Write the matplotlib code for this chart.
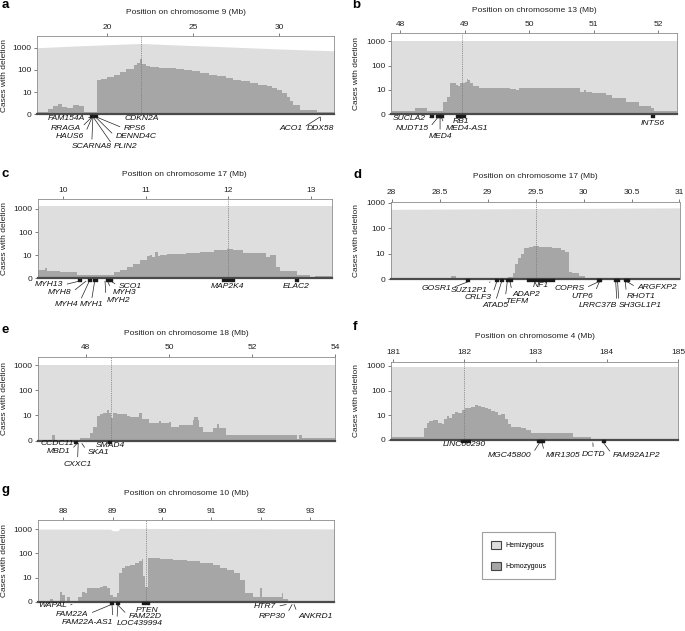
import matplotlib
matplotlib.use('Agg')
import matplotlib.pyplot as plt
from matplotlib.patches import Patch
from matplotlib.ticker import NullLocator, FuncFormatter

plt.rcParams['font.family'] = ['Liberation Sans', 'DejaVu Sans']

W, H = 685, 631
HEMI = '#dedede'
HOMO = '#a6a6a6'
FS = 6.0
GFS = 6.1

# ---- panel a: chromosome 9 ----
A_HOM_X = [15.91, 16.55, 16.85, 17.10, 17.35, 17.63, 17.66, 18.0, 18.33, 18.62, 19.40, 19.60,
           19.98, 20.40, 20.76, 21.10, 21.53, 21.75, 21.92, 22.02, 22.25, 22.50, 23.0, 23.47,
           24.0, 24.44, 24.90, 25.41, 25.90, 26.38, 26.90, 27.34, 27.80, 28.31, 28.80, 29.28,
           29.60, 29.87, 30.20, 30.45, 30.65, 30.83, 31.22, 32.19, 33.25]
A_HOM_Y = [1.3, 1.8, 2.4, 3.0, 2.2, 12, 2.0, 2.6, 2.4, 1.3, 35, 40,
           48, 62, 80, 105, 160, 210, 300, 180, 150, 140, 128, 117,
           108, 100, 88, 75, 62, 53, 45, 37, 31, 27, 22, 19,
           15, 13, 9, 6, 4, 2.6, 1.6, 1.3]
A_HEM_X = [15.9, 18.0, 20.0, 21.97, 24.0, 26.0, 28.0, 30.0, 32.0, 33.25]
A_HEM_Y = [1000, 1190, 1370, 1560, 1340, 1170, 1020, 880, 780, 730]
A_GENES = ['FAM154A', 'RRAGA', 'HAUS6', 'SCARNA8', 'PLIN2', 'DENND4C', 'RPS6', 'CDKN2A', 'ACO1', 'DDX58']
A_START = [19.07, 19.09, 19.11, 19.15, 19.17, 19.30, 19.37, 21.97, 32.37, 32.42]
A_END = [19.08, 19.10, 19.12, 19.16, 19.18, 19.33, 19.38, 21.98, 32.38, 32.43]
A_LX = [18.68, 18.43, 18.62, 19.09, 20.37, 20.47, 20.95, 22.02, 31.35, 32.40]
A_LDY = [4, 14, 22.3, 32.3, 32.3, 22.3, 14, 4.7, 14, 14]
A_LHA = ['right', 'right', 'right', 'center', 'left', 'left', 'left', 'center', 'right', 'center']

# ---- panel b: chromosome 13 ----
B_HOM_X = [47.87, 48.23, 48.41, 48.67, 48.72, 48.77, 48.86, 48.90, 48.93, 49.00, 49.03, 49.06,
           49.08, 49.13, 49.23, 49.70, 49.80, 49.85, 50.78, 50.85, 50.88, 50.98, 51.19, 51.29,
           51.50, 51.70, 51.88, 51.94, 52.29]
B_HOM_Y = [1.37, 1.75, 1.37, 3.3, 5.3, 19, 16, 15, 20, 22, 28, 25,
           20, 15, 12.5, 10.6, 10, 12, 8.5, 10, 8.5, 7.3, 6.2, 4.8,
           3.3, 2.2, 1.8, 1.37]
B_HEM_X = [47.86, 52.29]
B_HEM_Y = [1000, 1000]
B_GENES = ['SUCLA2', 'NUDT15', 'MED4', 'MED4-AS1', 'RB1', 'INTS6']
B_START = [48.48, 48.58, 48.61, 48.63, 48.88, 51.91]
B_END = [48.49, 48.60, 48.63, 48.65, 48.99, 51.92]
B_LX = [48.40, 48.44, 48.62, 48.71, 48.94, 51.91]
B_LDY = [4.7, 14.7, 22.3, 14, 7.7, 9.7]
B_LHA = ['right', 'right', 'center', 'left', 'center', 'center']

# ---- panel c: chromosome 17 (MAP2K4) ----
C_HOM_X = [9.69, 9.78, 9.80, 9.96, 10.16, 10.61, 10.69, 10.77, 10.85, 10.93, 11.01, 11.05,
           11.08, 11.11, 11.15, 11.17, 11.25, 11.49, 11.65, 11.82, 11.98, 12.06, 12.18, 12.46,
           12.50, 12.58, 12.62, 12.74, 12.83, 12.99, 13.05, 13.25]
C_HOM_Y = [2.3, 2.8, 2.1, 1.8, 1.45, 1.8, 2.3, 3.0, 4.2, 6.0, 9.0, 10.5,
           8.5, 14, 9.5, 10.5, 11, 12, 14, 16, 19, 17, 13, 8.7,
           10, 3.2, 2.1, 2.0, 1.4, 1.0, 1.3]
C_HEM_X = [9.69, 13.25]
C_HEM_Y = [1400, 1400]
C_GENES = ['MYH13', 'MYH8', 'MYH4', 'MYH1', 'MYH2', 'MYH3', 'SCO1', 'MAP2K4', 'ELAC2']
C_START = [10.19, 10.27, 10.31, 10.37, 10.50, 10.53, 10.57, 11.93, 12.82]
C_END = [10.20, 10.28, 10.32, 10.39, 10.51, 10.54, 10.58, 12.05, 12.83]
C_LX = [10.0, 10.10, 10.18, 10.34, 10.52, 10.60, 10.67, 11.99, 12.82]
C_LDY = [6.7, 14.3, 26.7, 26.7, 21.7, 14.3, 7.7, 7.7, 7.7]
C_LHA = ['right', 'right', 'right', 'center', 'left', 'left', 'left', 'center', 'center']

# ---- panel d: chromosome 17 (NF1) ----
D_HOM_X = [27.99, 28.62, 28.67, 29.21, 29.26, 29.29, 29.32, 29.35, 29.38, 29.43, 29.47,
           29.54, 29.67, 29.76, 29.81, 29.85, 29.88, 29.95, 30.01, 31.0]
D_HOM_Y = [1.0, 1.3, 1.0, 1.15, 1.7, 4.0, 7.0, 9.3, 17, 18.7, 19.5,
           18.7, 16, 13.8, 12, 1.9, 1.7, 1.3, 1.0]
D_HEM_X = [27.99, 31.0]
D_HEM_Y = [560, 640]
D_GENES = ['GOSR1', 'SUZ12P1', 'CRLF3', 'ATAD5', 'TEFM', 'ADAP2', 'NF1', 'COPRS', 'UTP6',
           'LRRC37B', 'SH3GL1P1', 'RHOT1', 'ARGFXP2']
D_START = [28.79, 29.02, 29.09, 29.14, 29.20, 29.23, 29.42, 30.15, 30.16, 30.33, 30.35, 30.43, 30.45]
D_END = [28.80, 29.03, 29.10, 29.15, 29.21, 29.24, 29.68, 30.16, 30.17, 30.34, 30.36, 30.44, 30.46]
D_LX = [28.62, 29.00, 29.04, 29.08, 29.18, 29.26, 29.55, 30.01, 30.10, 30.35, 30.37, 30.45, 30.56]
D_LDY = [9.3, 11, 18.3, 26.7, 22.3, 16, 6.3, 9.3, 17, 26.7, 26.7, 17.7, 8.7]
D_LHA = ['right', 'right', 'right', 'center', 'left', 'left', 'center', 'right', 'right',
         'right', 'left', 'left', 'left']

# ---- panel e: chromosome 18 ----
E_HOM_X = [46.84, 47.18, 47.26, 47.86, 48.10, 48.18, 48.26, 48.34, 48.42, 48.50, 48.55, 48.60,
           48.65, 48.74, 48.98, 49.06, 49.29, 49.34, 49.53, 49.77, 49.81, 50.01, 50.05, 50.25,
           50.57, 50.61, 50.70, 50.73, 50.81, 51.05, 51.17, 51.21, 51.37, 53.08, 53.13, 53.21, 54.0]
E_HOM_Y = [1.05, 1.7, 1.0, 1.3, 1.95, 3.6, 9.6, 11.4, 12, 16, 12, 7.7,
           13, 11.4, 9.6, 8.9, 12, 7, 4.9, 6, 4.9, 5.5, 3.6, 4.2,
           6.5, 8.5, 6.5, 3.6, 2.3, 3.1, 4.5, 3.1, 1.7, 1.2, 1.7, 1.3]
E_HEM_X = [46.84, 54.0]
E_HEM_Y = [990, 990]
E_GENES = ['CCDC11', 'MBD1', 'CXXC1', 'SKA1', 'SMAD4']
E_START = [47.75, 47.78, 47.81, 47.90, 48.56]
E_END = [47.76, 47.79, 47.82, 47.91, 48.57]
E_LX = [47.72, 47.62, 47.80, 48.05, 48.59]
E_LDY = [3.0, 10.5, 23.5, 11.7, 5]
E_LHA = ['right', 'right', 'center', 'left', 'center']

# ---- panel f: chromosome 4 ----
F_HOM_X = [180.97, 181.44, 181.48, 181.51, 181.56, 181.63, 181.68, 181.71, 181.75, 181.79,
           181.82, 181.87, 181.91, 181.96, 182.01, 182.05, 182.10, 182.15, 182.19, 182.24,
           182.29, 182.33, 182.38, 182.43, 182.47, 182.52, 182.57, 182.61, 182.66, 182.80,
           182.87, 182.94, 183.52, 183.78, 185.0]
F_HOM_Y = [1.36, 3.2, 5, 6, 6.5, 5, 4.5, 7, 9, 8,
           11, 13, 12, 16, 20, 19, 22, 26, 23, 22,
           19, 18, 15, 13, 10, 11, 7, 4.5, 3.5, 3.2,
           2.6, 1.9, 1.3, 1.0]
F_HEM_X = [180.97, 185.0]
F_HEM_Y = [880, 880]
F_GENES = ['LINC00290', 'MGC45800', 'MIR1305', 'DCTD', 'FAM92A1P2']
F_START = [181.97, 183.04, 183.08, 183.80, 183.95]
F_END = [182.06, 183.07, 183.10, 183.81, 183.96]
F_LX = [182.0, 182.94, 183.14, 183.81, 184.09]
F_LDY = [5, 15.7, 15.7, 14, 15.7]
F_LHA = ['center', 'right', 'left', 'center', 'left']

# ---- panel g: chromosome 10 ----
G_HOM_X = [87.48, 87.73, 87.80, 87.93, 87.97, 88.03, 88.07, 88.14, 88.30, 88.37, 88.44, 88.47,
           88.74, 88.81, 88.88, 88.95, 89.01, 89.08, 89.12, 89.18, 89.25, 89.35, 89.45, 89.54,
           89.59, 89.62, 89.65, 89.72, 89.96, 90.23, 90.50, 90.77, 91.04, 91.18, 91.32, 91.45,
           91.58, 91.69, 91.85, 91.99, 92.02, 92.43, 92.46, 92.56, 93.49]
G_HOM_Y = [1.0, 1.25, 1.0, 2.6, 1.9, 1.1, 1.6, 1.0, 1.6, 2.6, 2.2, 3.6,
           3.9, 4.5, 3.6, 1.9, 1.6, 2.2, 15, 24, 30, 33, 40, 50,
           60, 12, 4, 65, 60, 55, 48, 40, 33, 26, 20, 16,
           8, 2.2, 1.6, 3.6, 1.6, 2.4, 1.25, 1.0]
G_HEM_X = [87.48, 88.95, 89.0, 89.1, 89.15, 93.49]
G_HEM_Y = [1030, 1030, 880, 880, 1100, 1050]
G_GENES = ['WAPAL', 'FAM22A', 'FAM22A-AS1', 'PTEN', 'FAM22D', 'LOC439994', 'HTR7', 'RPP30', 'ANKRD1']
G_START = [88.17, 88.97, 88.98, 89.62, 89.09, 89.10, 92.51, 92.63, 92.67]
G_END = [88.18, 88.98, 88.99, 89.72, 89.10, 89.11, 92.52, 92.64, 92.68]
G_LX = [88.07, 88.51, 89.01, 89.69, 89.32, 89.08, 92.31, 92.50, 92.77]
G_LDY = [4, 12.3, 20.5, 8.3, 14.3, 22, 5, 15, 15]
G_LHA = ['right', 'right', 'right', 'center', 'left', 'left', 'right', 'right', 'left']

fig = plt.figure(figsize=(W / 100, H / 100), dpi=100)


def draw_panel(box, xlim, top, xticks, chrom, letter, letter_xy, title_y, ylab_x, mark,
               hom_x, hom_y, hem_x, hem_y, genes, starts, ends, lab_x, lab_dy, lab_ha):
    l, t, r, b = box
    h = b - t
    ax = fig.add_axes([l / W, 1 - b / H, (r - l) / W, h / H])
    ax.fill_between(hem_x, 1, hem_y, color=HEMI, lw=0)
    ax.fill_between(hom_x, 1, hom_y + [hom_y[-1]], step='post', color=HOMO, lw=0)
    ax.axvline(mark, color='#777777', ls=(0, (1, 1.2)), lw=0.6)
    ax.set_yscale('log')
    ax.set_ylim(1, top)
    ax.set_xlim(*xlim)
    ax.set_yticks([1, 10, 100, 1000])
    ax.set_yticklabels(['0', '10', '100', '1000'])
    ax.yaxis.set_minor_locator(NullLocator())
    ax.xaxis.tick_top()
    ax.set_xticks(xticks)
    ax.xaxis.set_major_formatter(FuncFormatter(lambda v, p: '%g' % v))
    ax.tick_params(axis='both', direction='out', length=2.4, width=0.6, color='#666666',
                   pad=1.5, labelsize=FS, labelcolor='#222222')
    for s in ['top', 'left', 'right']:
        ax.spines[s].set_color('#8c8c8c')
        ax.spines[s].set_linewidth(0.6)
    ax.spines['bottom'].set_color('#4a4a4a')
    ax.spines['bottom'].set_linewidth(1.6)

    ax.text(0.5, 1 + (t - title_y) / h, 'Position on chromosome %s (Mb)' % chrom,
            transform=ax.transAxes, ha='center', va='center', fontsize=FS, color='#222222')
    fig.text(ylab_x / W, 1 - (t + b) / 2 / H, 'Cases with deletion', rotation=90,
             ha='center', va='center', fontsize=FS, color='#222222')
    fig.text(letter_xy[0] / W, 1 - letter_xy[1] / H, letter, fontsize=9.5,
             fontweight='bold', ha='left', va='baseline')

    tr = ax.get_xaxis_transform()
    for g, s, e, lx, dy, ha in zip(genes, starts, ends, lab_x, lab_dy, lab_ha):
        ax.plot([s, e], [-1.3 / h, -1.3 / h], transform=tr, color='#1a1a1a', lw=2.4,
                solid_capstyle='projecting', clip_on=False, zorder=5)
        mid = (s + e) / 2
        rel = {'right': (1, 0.5), 'left': (0, 0.5), 'center': (0.5, 1)}[ha]
        arrow = None
        if ha != 'center' or dy > 10:
            arrow = dict(arrowstyle='-', lw=0.5, color='#222222', shrinkA=0.8,
                         shrinkB=0, relpos=rel)
        ax.annotate(g, xy=(mid, -2.8 / h), xycoords=tr, xytext=(lx, -dy / h),
                    textcoords=tr, ha=ha, va='center', fontsize=GFS, style='italic',
                    color='#111111', arrowprops=arrow, annotation_clip=False)
    return ax


draw_panel((37, 36, 334, 114.3), (15.9, 33.2), 10 ** 3.53, [20, 25, 30], '9', 'a', (2, 8), 13, 5,
           21.97, A_HOM_X, A_HOM_Y, A_HEM_X, A_HEM_Y, A_GENES, A_START, A_END, A_LX, A_LDY, A_LHA)
draw_panel((391, 33.3, 677, 114.3), (47.86, 52.29), 10 ** 3.33, [48, 49, 50, 51, 52], '13', 'b',
           (352, 8), 11, 356.5, 48.96,
           B_HOM_X, B_HOM_Y, B_HEM_X, B_HEM_Y, B_GENES, B_START, B_END, B_LX, B_LDY, B_LHA)
draw_panel((37.7, 199, 331.7, 278.3), (9.69, 13.25), 10 ** 3.43, [10, 11, 12, 13], '17', 'c',
           (2, 177), 175, 5, 12.0,
           C_HOM_X, C_HOM_Y, C_HEM_X, C_HEM_Y, C_GENES, C_START, C_END, C_LX, C_LDY, C_LHA)
draw_panel((390.7, 201.7, 679.5, 279), (27.99, 31.0), 10 ** 3.05,
           [28, 28.5, 29, 29.5, 30, 30.5, 31], '17', 'd', (354, 178), 176.7, 356.5, 29.5,
           D_HOM_X, D_HOM_Y, D_HEM_X, D_HEM_Y, D_GENES, D_START, D_END, D_LX, D_LDY, D_LHA)
draw_panel((37.7, 356.7, 335, 440.7), (46.84, 54.0), 10 ** 3.33, [48, 50, 52, 54], '18', 'e',
           (2, 333), 333.3, 5, 48.6,
           E_HOM_X, E_HOM_Y, E_HEM_X, E_HEM_Y, E_GENES, E_START, E_END, E_LX, E_LDY, E_LHA)
draw_panel((391, 361.7, 678, 440), (180.97, 185.0), 10 ** 3.17, [181, 182, 183, 184, 185], '4',
           'f', (353, 330), 336, 356.5, 182.0,
           F_HOM_X, F_HOM_Y, F_HEM_X, F_HEM_Y, F_GENES, F_START, F_END, F_LX, F_LDY, F_LHA)
draw_panel((37.7, 520, 334.3, 601.7), (87.48, 93.49), 10 ** 3.39, [88, 89, 90, 91, 92, 93], '10',
           'g', (2, 493), 493.3, 5, 89.67,
           G_HOM_X, G_HOM_Y, G_HEM_X, G_HEM_Y, G_GENES, G_START, G_END, G_LX, G_LDY, G_LHA)

handles = [Patch(facecolor=HEMI, edgecolor='#444444', lw=0.8, label='Hemizygous'),
           Patch(facecolor=HOMO, edgecolor='#444444', lw=0.8, label='Homozygous')]
leg = fig.legend(handles=handles, loc='upper left', bbox_to_anchor=(481.7 / W, 1 - 531.7 / H),
                 borderaxespad=0, fontsize=5.0, frameon=True, fancybox=False,
                 handlelength=1.45, handleheight=1.45, handletextpad=0.6, labelspacing=1.8,
                 borderpad=1.3)
leg.get_frame().set_edgecolor('#888888')
leg.get_frame().set_linewidth(0.8)

fig.savefig('out.png', dpi=100)
